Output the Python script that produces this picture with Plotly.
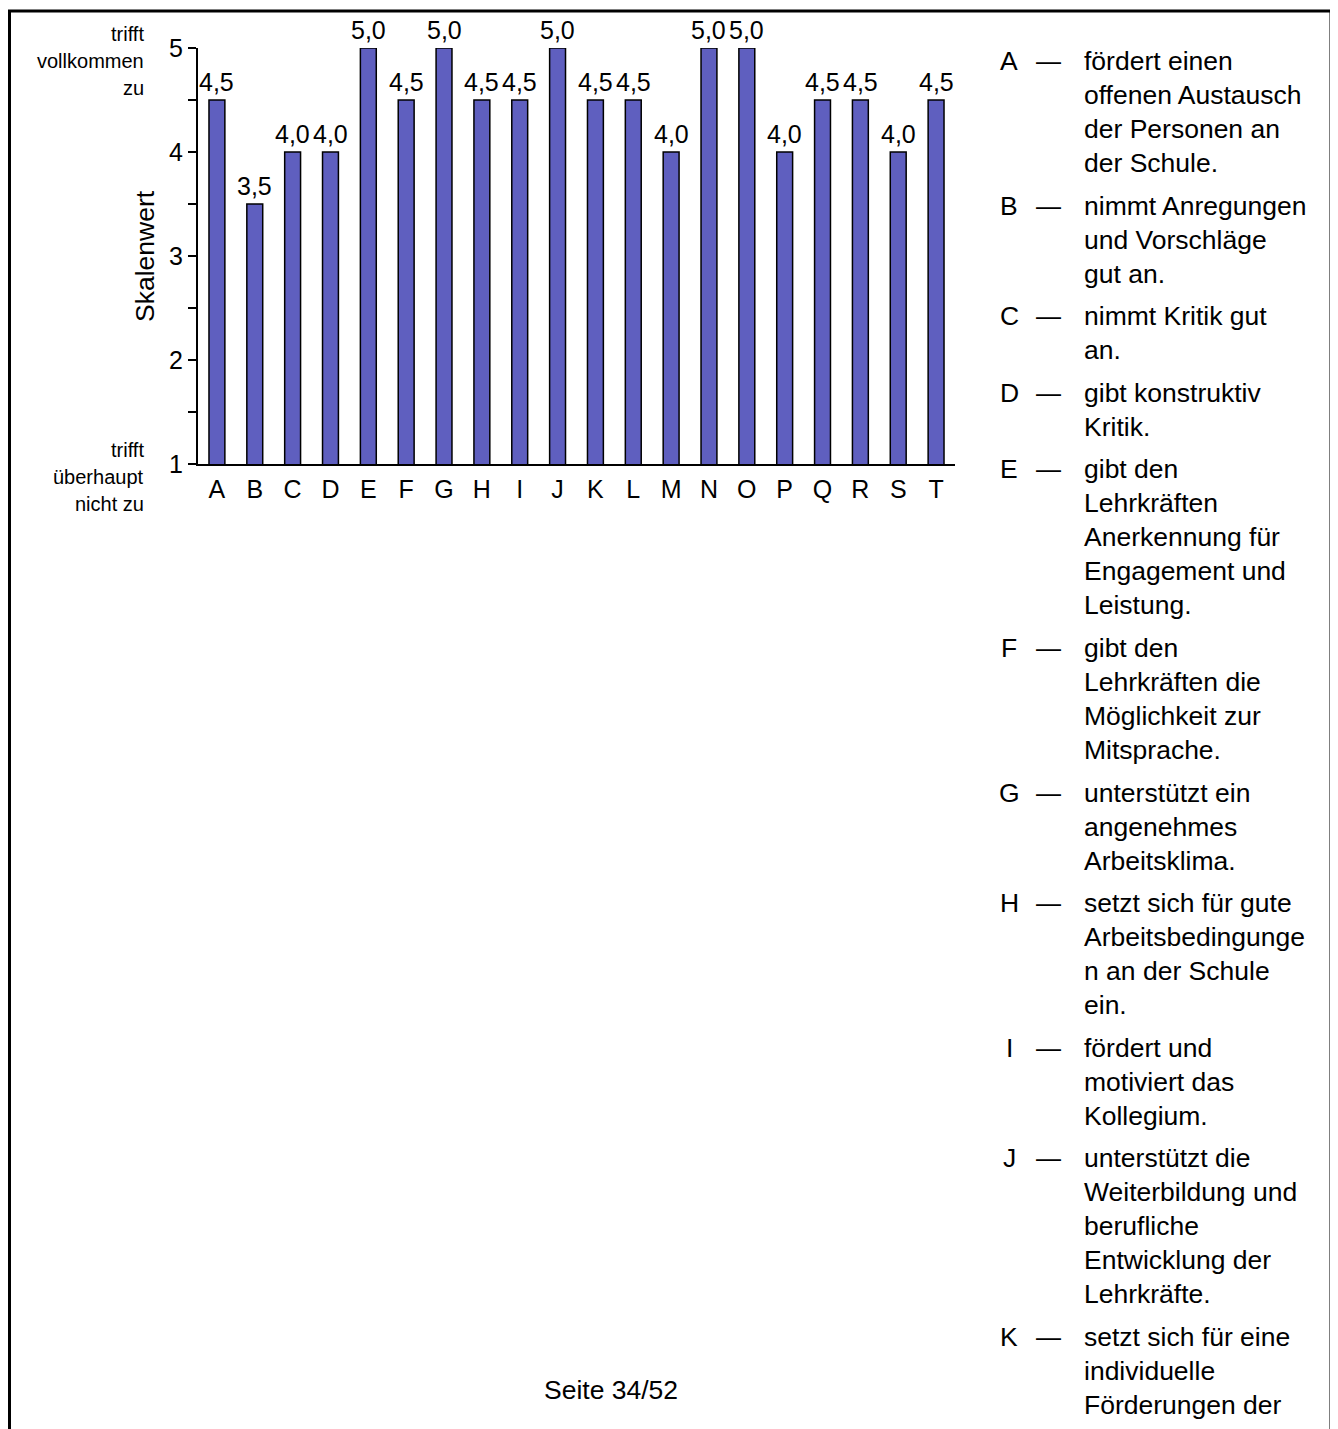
import plotly.graph_objects as go

# ---------------- data ----------------
categories = ["A", "B", "C", "D", "E", "F", "G", "H", "I", "J",
              "K", "L", "M", "N", "O", "P", "Q", "R", "S", "T"]
values = [4.5, 3.5, 4.0, 4.0, 5.0, 4.5, 5.0, 4.5, 4.5, 5.0,
          4.5, 4.5, 4.0, 5.0, 5.0, 4.0, 4.5, 4.5, 4.0, 4.5]
value_labels = [f"{v:.1f}".replace(".", ",") for v in values]
y_ticks = [1, 2, 3, 4, 5]
y_title = "Skalenwert"
top_label = ["trifft", "vollkommen", "zu"]
bottom_label = ["trifft", "überhaupt", "nicht zu"]
footer = "Seite 34/52"

legend_letters = ["A", "B", "C", "D", "E", "F", "G", "H", "I", "J", "K"]
legend_texts = [
    ["fördert einen", "offenen Austausch", "der Personen an", "der Schule."],
    ["nimmt Anregungen", "und Vorschläge", "gut an."],
    ["nimmt Kritik gut", "an."],
    ["gibt konstruktiv", "Kritik."],
    ["gibt den", "Lehrkräften", "Anerkennung für", "Engagement und", "Leistung."],
    ["gibt den", "Lehrkräften die", "Möglichkeit zur", "Mitsprache."],
    ["unterstützt ein", "angenehmes", "Arbeitsklima."],
    ["setzt sich für gute", "Arbeitsbedingunge", "n an der Schule", "ein."],
    ["fördert und", "motiviert das", "Kollegium."],
    ["unterstützt die", "Weiterbildung und", "berufliche", "Entwicklung der", "Lehrkräfte."],
    ["setzt sich für eine", "individuelle", "Förderungen der", "Schülerinnen und"],
]

# ---------------- layout geometry ----------------
# The page body has an 8px default margin; the figure is sized so that it
# fills the 1338x1429 window exactly after that offset.
OFF = 8
W, H = 1338 - OFF, 1429 - OFF
# plot-area edges as seen in the window
SL, SR, ST, SB = 198, 955, 48, 464
FONT = "Liberation Sans, Arial, Helvetica, sans-serif"
BAR_COLOR = "#5F5FBF"


def px(x):
    return (x - SL) / (SR - SL)


def py(y):
    return (SB - y) / (SB - ST)


fig = go.Figure()
fig.add_trace(go.Bar(
    x=categories, y=values,
    marker=dict(color=BAR_COLOR, line=dict(color="black", width=1.5)),
    width=0.42, hoverinfo="skip",
))

annotations = []
# value labels above bars (data coordinates)
for c, v, lab in zip(categories, values, value_labels):
    annotations.append(dict(x=c, y=v, xref="x", yref="y", text=lab, showarrow=False,
                            xanchor="center", yanchor="middle", yshift=18,
                            font=dict(family=FONT, size=25, color="black")))
# y title
annotations.append(dict(x=px(145), y=py(256), xref="paper", yref="paper",
                        text=y_title, textangle=-90, showarrow=False,
                        font=dict(family=FONT, size=26.5, color="black"),
                        xanchor="center", yanchor="middle"))
# side labels
for i, t in enumerate(top_label):
    annotations.append(dict(x=px(146), y=py(34 + 27 * i), xref="paper", yref="paper",
                            text=t, showarrow=False, xanchor="right", yanchor="middle",
                            font=dict(family=FONT, size=20, color="black")))
for i, t in enumerate(bottom_label):
    annotations.append(dict(x=px(146), y=py(450 + 27 * i), xref="paper", yref="paper",
                            text=t, showarrow=False, xanchor="right", yanchor="middle",
                            font=dict(family=FONT, size=20, color="black")))
# description list
yc = 61
for letter, lines in zip(legend_letters, legend_texts):
    annotations.append(dict(x=px(1009), y=py(yc), xref="paper", yref="paper",
                            text=letter, showarrow=False, xanchor="center", yanchor="middle",
                            font=dict(family=FONT, size=26.5, color="black")))
    annotations.append(dict(x=px(1048), y=py(yc), xref="paper", yref="paper",
                            text="—", showarrow=False, xanchor="center", yanchor="middle",
                            font=dict(family=FONT, size=25, color="black")))
    for j, line in enumerate(lines):
        annotations.append(dict(x=px(1082), y=py(yc + 34 * j), xref="paper", yref="paper",
                                text=line, showarrow=False, xanchor="left", yanchor="middle",
                                font=dict(family=FONT, size=26.5, color="black")))
    yc += 34 * (len(lines) - 1) + 42.6
# footer
annotations.append(dict(x=px(611), y=py(1390), xref="paper", yref="paper",
                        text=footer, showarrow=False, xanchor="center", yanchor="middle",
                        font=dict(family=FONT, size=26.5, color="black")))

shapes = [dict(type="rect", xref="paper", yref="paper",
               x0=px(9.5), x1=px(1331), y0=py(1460), y1=py(11),
               line=dict(color="black", width=3), fillcolor="rgba(0,0,0,0)", layer="below")]

fig.update_layout(
    width=W, height=H,
    margin=dict(l=SL - OFF, r=W - (SR - OFF), t=ST - OFF, b=H - (SB - OFF), pad=0),
    paper_bgcolor="white", plot_bgcolor="white",
    showlegend=False,
    font=dict(family=FONT, color="black"),
    annotations=annotations, shapes=shapes,
    xaxis=dict(type="category", range=[-0.5, 19.5], showline=True, linecolor="black",
               linewidth=2, ticks="", showgrid=False, zeroline=False, ticklabelstandoff=2,
               tickfont=dict(family=FONT, size=25, color="black")),
    yaxis=dict(range=[1, 5], tickvals=y_ticks, showline=True, linecolor="black",
               linewidth=2, ticks="outside", ticklen=8, tickwidth=1.5, tickcolor="black",
               minor=dict(dtick=0.5, tick0=1, ticks="outside", ticklen=8, tickwidth=1.5,
                          tickcolor="black", showgrid=False),
               showgrid=False, zeroline=False,
               tickfont=dict(family=FONT, size=25, color="black")),
)

fig.write_html("out.html")
